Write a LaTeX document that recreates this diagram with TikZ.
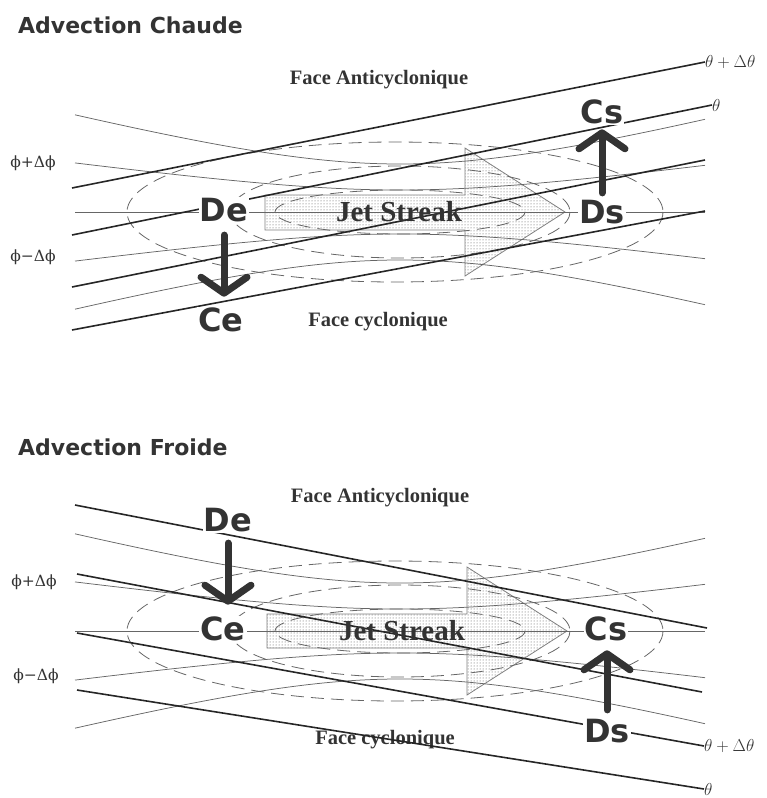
\documentclass[tikz,border=0pt]{standalone}
\usepackage{fontspec}
\newfontfamily\dvsans{DejaVu Sans}
\newfontfamily\lserif{Liberation Serif}
\newfontfamily\dvserif{DejaVu Serif}
\usetikzlibrary{patterns,arrows.meta}
\definecolor{ink}{HTML}{333333}
\definecolor{thin}{HTML}{666666}
\newcommand\jetbackdrop[1]{%
  % geopotential contours
  \draw[geo] plot[domain=75:705, samples=90, smooth] (\x, {#1 - sqrt(2304 + (0.26*(\x-400))^2)});
  \draw[geo] plot[domain=75:705, samples=90, smooth] (\x, {#1 - sqrt(484 + (0.135*(\x-400))^2)});
  \draw[geo] (75,#1) -- (705,#1);
  \draw[geo] plot[domain=75:705, samples=90, smooth] (\x, {#1 + sqrt(484 + (0.135*(\x-400))^2)});
  \draw[geo] plot[domain=75:705, samples=90, smooth] (\x, {#1 + sqrt(2304 + (0.26*(\x-400))^2)});
  % isotachs
  \draw[iso] (395,#1) ellipse [x radius=268, y radius=70];
  \draw[iso] (400,#1) ellipse [x radius=170, y radius=46];
  \draw[iso] (400,#1) ellipse [x radius=125, y radius=22];
}
\begin{document}
\begin{tikzpicture}[x=1pt,y=-1pt,
 title/.style={font=\dvsans\bfseries\fontsize{22}{26}\selectfont, text=ink, anchor=base west, inner sep=0pt},
 ptlab/.style={font=\dvsans\bfseries\fontsize{32}{36}\selectfont, text=ink, fill=white, inner sep=1pt},
 face/.style={font=\lserif\bfseries\fontsize{20.5}{24}\selectfont, text=ink, inner sep=0pt},
 jettext/.style={font=\lserif\bfseries\fontsize{29}{32}\selectfont, text=ink, inner sep=0pt},
 philab/.style={font=\dvserif\fontsize{15.5}{18}\selectfont, text=ink, inner sep=0pt},
 thlab/.style={font=\fontsize{18}{21}\selectfont, text=ink, anchor=west, inner sep=0pt},
 theta/.style={draw=black!85, line width=1.6pt},
 geo/.style={draw=thin, line width=0.75pt},
 iso/.style={draw=thin, line width=0.8pt, dash pattern=on 13pt off 7pt},
 jet/.style={draw=gray, line width=0.8pt, pattern=dots, pattern color=black!70},
 fat/.style={draw=ink, line width=7pt, line cap=round, line join=round, -{Straight Barb[round, length=16pt, width=46pt]}},
]
\useasboundingbox (0,0) rectangle (767,798);

% ================= Panel 1 : Advection Chaude =================
\node[title] (t1) at (18,33) {Advection Chaude};
\draw[jet] (265,195) -- (465,195) -- (465,148) -- (565,212) -- (465,276) -- (465,230) -- (265,230) -- cycle;
\jetbackdrop{212}
\node[face] (fa1) at (379,80) {Face Anticyclonique};
\node[face] (fc1) at (378,322) {Face cyclonique};
\node[thlab] (th1) at (705,62) {$\theta+\Delta\theta$};
\node[thlab] (th2) at (712,105) {$\theta$};
\draw[theta] (72,188) -- (th1.west);
\draw[theta] (72,235) -- (th2.west);
\draw[theta] (72,287) -- (705,160);
\draw[theta] (72,330) -- (705,211);
\node[jettext] (js1) at (399,212) {Jet Streak};
\node[philab] (pp1) at (33,163) {ϕ+Δϕ};
\node[philab] (pm1) at (33,257) {ϕ−Δϕ};
\node[ptlab] (De1) at (224,210) {De};
\node[ptlab] (Ce1) at (221,320) {Ce};
\node[ptlab] (Cs1) at (602,112) {Cs};
\node[ptlab] (Ds1) at (602,212) {Ds};
\draw[fat] ([yshift=-12pt]De1.south) -- ([yshift=10pt]De1.south |- Ce1.north);
\draw[fat] ([yshift=6pt]Ds1.north) -- ([yshift=-4pt]Ds1.north |- Cs1.south);

% ================= Panel 2 : Advection Froide =================
\node[title] (t2) at (18,455) {Advection Froide};
\draw[jet] (267,614) -- (467,614) -- (467,567) -- (567,631) -- (467,695) -- (467,648) -- (267,648) -- cycle;
\jetbackdrop{631}
\node[face] (fa2) at (380,498) {Face Anticyclonique};
\node[face] (fc2) at (385,740) {Face cyclonique};
\node[thlab] (th3) at (704,746) {$\theta+\Delta\theta$};
\node[thlab] (th4) at (704,789) {$\theta$};
\draw[theta] (75,505) -- (707,628);
\draw[theta] (77,574) -- (702,692);
\draw[theta] (77,633) -- (th3.west);
\draw[theta] (77,690) -- (th4.west);
\node[jettext] (js2) at (402,631) {Jet Streak};
\node[philab] (pp2) at (34,582) {ϕ+Δϕ};
\node[philab] (pm2) at (36,676) {ϕ−Δϕ};
\node[ptlab] (De2) at (228,520) {De};
\node[ptlab] (Ce2) at (223,629) {Ce};
\node[ptlab] (Cs2) at (606,629) {Cs};
\node[ptlab] (Ds2) at (607,731) {Ds};
\draw[fat] ([yshift=-10pt]De2.south) -- ([yshift=11pt]De2.south |- Ce2.north);
\draw[fat] ([yshift=8pt]Ds2.north) -- ([yshift=-8pt]Ds2.north |- Cs2.south);
\end{tikzpicture}
\end{document}
